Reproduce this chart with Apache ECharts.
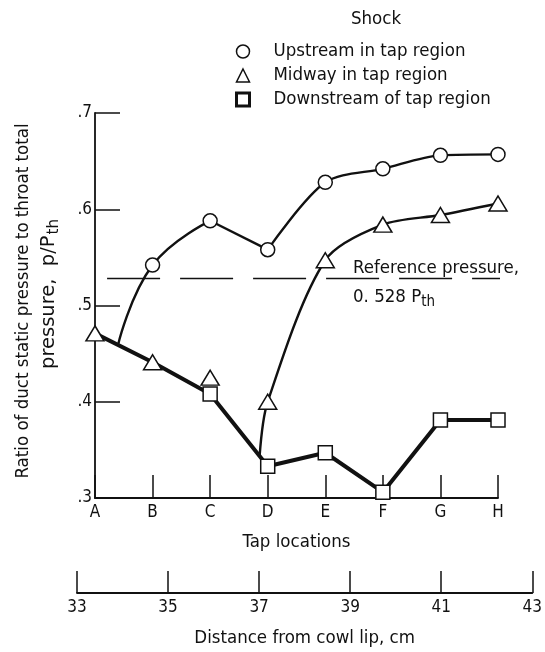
<!DOCTYPE html>
<html>
<head>
<meta charset="utf-8">
<script src="https://cdn.jsdelivr.net/npm/echarts@6/dist/echarts.min.js"></script>
<style>
  html, body { margin: 0; padding: 0; background: #fff; }
  #chart { width: 545px; height: 652px; }
</style>
</head>
<body>
<div id="chart"></div>
<script>
// Tap locations along the duct (category positions 0..7)
const tapLabels = ['A', 'B', 'C', 'D', 'E', 'F', 'G', 'H'];
// Static-pressure ratio p/P_th at each tap, per shock position
const upstream   = [null, 0.542, 0.588, 0.558, 0.628, 0.642, 0.656, 0.657];
const midway     = [0.471, 0.441, 0.425, 0.400, 0.547, 0.584, 0.594, 0.606];
const downstream = [0.471, 0.441, 0.408, 0.333, 0.347, 0.306, 0.381, 0.381];
// Where the faired curves branch off the common line
const upstreamBranch = [0.4, 0.459];
const midwayBranch   = [2.86, 0.344];
// Reference pressure line (0.528 P_th) and its extent in tap units
const referencePressure = 0.528;
const referenceSpan = [0.21, 7.33];
// Distance-from-cowl-lip scale (cm)
const distanceRange = [33, 43];
const distanceStep = 2;
const yTicks = [0.3, 0.4, 0.5, 0.6, 0.7];

const FONT = '"DejaVu Sans Condensed", "Liberation Sans Narrow", "DejaVu Sans", sans-serif';
const FONT_WIDE = '"DejaVu Sans", sans-serif';
const INK = '#111';
const TXT = 18.5;

const pts = (arr) => arr.map((v, i) => [i, v]);
const upstreamPts = pts(upstream).filter(p => p[1] !== null);

const chart = echarts.init(document.getElementById('chart'), null, { renderer: 'canvas' });

const option = {
  backgroundColor: '#fff',
  animation: false,
  textStyle: { fontFamily: FONT, color: INK },
  title: {
    text: 'Shock',
    left: 346, top: 5,
    textStyle: { fontFamily: FONT, fontSize: TXT, fontWeight: 'normal', color: INK }
  },
  legend: {
    orient: 'vertical',
    left: 230, top: 37,
    itemWidth: 13, itemHeight: 13, itemGap: 5,
    selectedMode: false,
    textStyle: { fontFamily: FONT, fontSize: TXT, lineHeight: 18, color: INK, padding: [0, 0, 0, 19] },
    data: [
      { name: 'Upstream in tap region', icon: 'circle',
        itemStyle: { color: '#fff', borderColor: INK, borderWidth: 1.5 } },
      { name: 'Midway in tap region', icon: 'triangle',
        itemStyle: { color: '#fff', borderColor: INK, borderWidth: 1.5 } },
      { name: 'Downstream of tap region', icon: 'rect',
        itemStyle: { color: '#fff', borderColor: INK, borderWidth: 3 } }
    ]
  },
  grid: [
    { left: 95, top: 113, width: 403, height: 385 },
    { left: 77, top: 570, width: 459, height: 23 }
  ],
  xAxis: [
    {
      gridIndex: 0, type: 'value', min: 0, max: 7, interval: 1,
      name: 'Tap locations', nameLocation: 'middle', nameGap: 35,
      nameTextStyle: { fontFamily: FONT, fontSize: TXT, color: INK },
      axisLine: { lineStyle: { color: INK, width: 1.8 } },
      axisTick: { inside: true, length: 23, lineStyle: { color: INK, width: 1.5 } },
      axisLabel: { margin: 6, fontFamily: FONT, fontSize: 17, color: INK,
                   formatter: v => tapLabels[v] || '' },
      splitLine: { show: false }
    },
    {
      gridIndex: 1, type: 'value', position: 'bottom',
      min: distanceRange[0], max: distanceRange[1], interval: distanceStep,
      name: 'Distance from cowl lip, cm', nameLocation: 'middle', nameGap: 36,
      nameTextStyle: { fontFamily: FONT, fontSize: TXT, color: INK },
      axisLine: { lineStyle: { color: INK, width: 1.8 } },
      axisTick: { inside: true, length: 22, lineStyle: { color: INK, width: 1.5 } },
      axisLabel: { margin: 6, fontFamily: FONT, fontSize: 17, color: INK },
      splitLine: { show: false }
    }
  ],
  yAxis: [
    {
      gridIndex: 0, type: 'value', min: yTicks[0], max: yTicks[yTicks.length - 1], interval: 0.1,
      axisLine: { show: true, lineStyle: { color: INK, width: 1.8 } },
      axisTick: { inside: true, length: 25, lineStyle: { color: INK, width: 1.5 } },
      axisLabel: { margin: 3, fontFamily: FONT, fontSize: 17, color: INK,
                   formatter: v => '.' + Math.round(v * 10) },
      splitLine: { show: false }
    },
    { gridIndex: 1, type: 'value', show: false }
  ],
  graphic: [
    {
      type: 'text', x: 23, y: 301, rotation: Math.PI / 2,
      style: { text: 'Ratio of duct static pressure to throat total',
               fontFamily: FONT, fontSize: TXT, fill: INK,
               align: 'center', verticalAlign: 'middle' }
    },
    {
      type: 'text', x: 49, y: 294, rotation: Math.PI / 2,
      style: { text: '{a|pressure,  p/P}{s|th}',
               align: 'center', verticalAlign: 'middle',
               rich: {
                 a: { fontFamily: FONT_WIDE, fontSize: 19.5, fill: INK, color: INK },
                 s: { fontFamily: FONT_WIDE, fontSize: 15, fill: INK, color: INK, padding: [10, 0, 0, 1] }
               } }
    },
    {
      type: 'text', x: 353, y: 268,
      style: { text: 'Reference pressure,', fontFamily: FONT, fontSize: TXT, fill: INK,
               align: 'left', verticalAlign: 'middle' }
    },
    {
      type: 'text', x: 353, y: 297,
      style: { text: '{a|0. 528 P}{s|th}', align: 'left', verticalAlign: 'middle',
               rich: {
                 a: { fontFamily: FONT, fontSize: TXT, fill: INK, color: INK },
                 s: { fontFamily: FONT, fontSize: 15, fill: INK, color: INK, padding: [10, 0, 0, 0] }
               } }
    }
  ],
  series: [
    // Reference pressure dashed line
    {
      type: 'line', xAxisIndex: 0, yAxisIndex: 0, clip: false, silent: true,
      data: [[referenceSpan[0], referencePressure], [referenceSpan[1], referencePressure]],
      symbol: 'none',
      lineStyle: { color: INK, width: 1.4, type: [53, 20] },
      z: 1
    },
    // Common line A-B-C and downstream-shock line with squares
    {
      name: 'Downstream of tap region',
      type: 'line', xAxisIndex: 0, yAxisIndex: 0,
      data: pts(downstream),
      symbol: (val, params) => params.dataIndex < 2 ? 'none' : 'rect',
      symbolSize: 14,
      showAllSymbol: true,
      itemStyle: { color: '#fff', borderColor: INK, borderWidth: 1.5 },
      lineStyle: { color: INK, width: 4 },
      z: 4
    },
    // Upstream-shock faired curve: branch -> B -> C
    {
      type: 'line', xAxisIndex: 0, yAxisIndex: 0, silent: true,
      data: [upstreamBranch, upstreamPts[0], upstreamPts[1]],
      smooth: 0.45, symbol: 'none',
      lineStyle: { color: INK, width: 2.4 }, z: 3
    },
    // Upstream: C -> D straight
    {
      type: 'line', xAxisIndex: 0, yAxisIndex: 0, silent: true,
      data: [upstreamPts[1], upstreamPts[2]],
      symbol: 'none',
      lineStyle: { color: INK, width: 2.4 }, z: 3
    },
    // Upstream: D -> H faired
    {
      type: 'line', xAxisIndex: 0, yAxisIndex: 0, silent: true,
      data: upstreamPts.slice(2),
      smooth: 0.3, symbol: 'none',
      lineStyle: { color: INK, width: 2.4 }, z: 3
    },
    // Midway-shock faired curve from the branch point through D..H
    {
      type: 'line', xAxisIndex: 0, yAxisIndex: 0, silent: true,
      data: [midwayBranch].concat(pts(midway).slice(3)),
      smooth: 0.3, symbol: 'none',
      lineStyle: { color: INK, width: 2.4 }, z: 3
    },
    {
      name: 'Upstream in tap region',
      type: 'scatter', xAxisIndex: 0, yAxisIndex: 0,
      data: upstreamPts,
      symbol: 'circle', symbolSize: 14,
      itemStyle: { color: '#fff', borderColor: INK, borderWidth: 1.5, opacity: 1 },
      z: 6
    },
    {
      name: 'Midway in tap region',
      type: 'scatter', xAxisIndex: 0, yAxisIndex: 0,
      data: pts(midway),
      symbol: 'triangle', symbolSize: [18, 15],
      itemStyle: { color: '#fff', borderColor: INK, borderWidth: 1.5, opacity: 1 },
      z: 6
    },
    // keeps the distance axis grid populated
    {
      type: 'line', xAxisIndex: 1, yAxisIndex: 1, silent: true,
      data: [], symbol: 'none'
    }
  ]
};

chart.setOption(option);
</script>
</body>
</html>
